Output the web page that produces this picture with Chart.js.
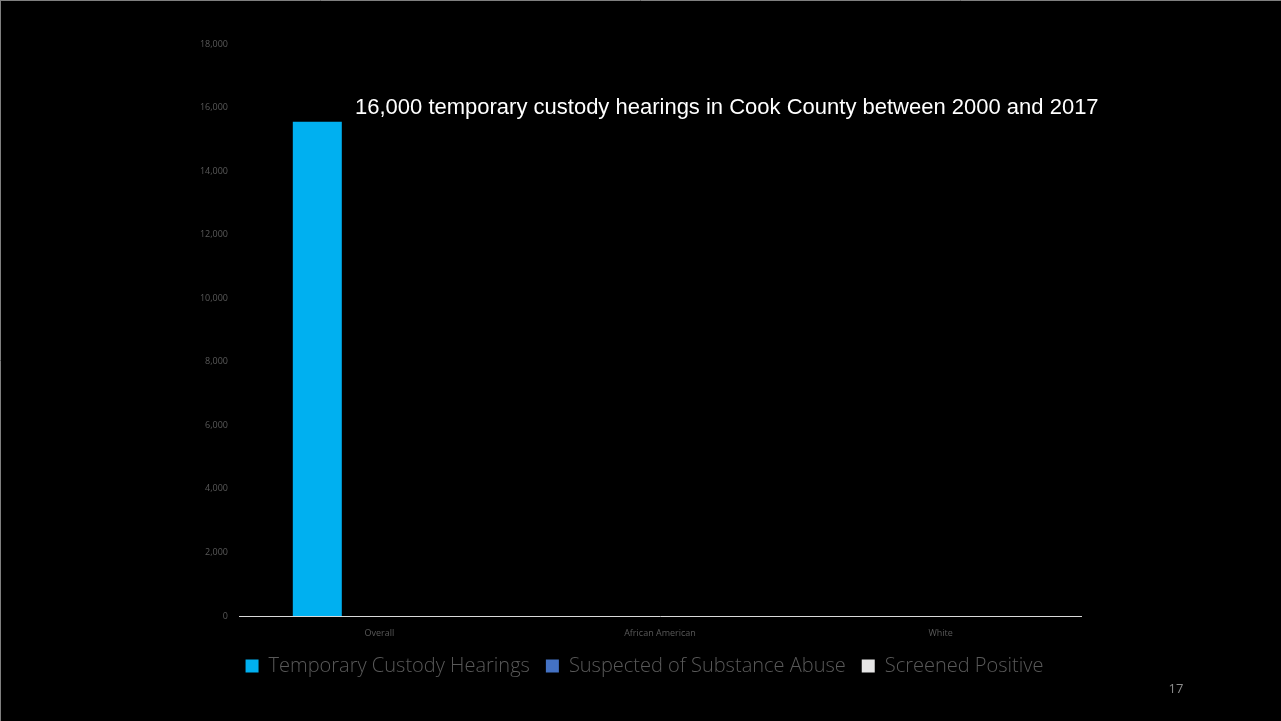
<!DOCTYPE html>
<html lang="en">
<head>
    <meta charset="UTF-8">
    <title>Temporary Custody Hearings</title>
    <script src="https://cdn.jsdelivr.net/npm/chart.js"></script>
    <style>
        html, body {
            margin: 0;
            padding: 0;
            background: #000;
        }
        #wrap {
            width: 1281px;
            height: 721px;
        }
    </style>
</head>
<body>
    <div id="wrap">
        <canvas id="custodyChart" width="1281" height="721"></canvas>
    </div>
    <script>
        // Categories and series
        const categories = ["Overall", "African American", "White"];
        const seriesNames = ["Temporary Custody Hearings", "Suspected of Substance Abuse", "Screened Positive"];
        const hearings = [15550, 0, 0];
        const suspected = [0, 0, 0];
        const screened = [0, 0, 0];
        const seriesColors = ["#00b0f0", "#4472c4", "#e7e6e6"];

        const headline = "16,000 temporary custody hearings in Cook County between 2000 and 2017";
        const pageNumber = "17";

        // Headline text, page number and the thin slide edge
        const slideDecor = {
            id: "slideDecor",
            afterLayout(chart) {
                // nudge the legend row a little to the right
                chart.legend.left += 9;
                chart.legend.right += 9;
            },
            afterDraw(chart) {
                const ctx = chart.ctx;
                ctx.save();
                ctx.fillStyle = "#ffffff";
                ctx.font = "22px 'Liberation Sans', Arial, sans-serif";
                ctx.textBaseline = "alphabetic";
                ctx.textAlign = "left";
                ctx.fillText(headline, 355, 114);

                ctx.fillStyle = "#8c8c8c";
                ctx.font = "13px 'Open Sans', sans-serif";
                ctx.textAlign = "center";
                ctx.fillText(pageNumber, 1176, 693);

                ctx.strokeStyle = "#7f7f7f";
                ctx.lineWidth = 1;
                ctx.beginPath();
                ctx.moveTo(0, 0.5);
                ctx.lineTo(1281, 0.5);
                ctx.moveTo(0.5, 0);
                ctx.lineTo(0.5, 721);
                ctx.stroke();
                ctx.restore();
            }
        };

        const config = {
            type: "bar",
            data: {
                labels: categories,
                datasets: [
                    { label: seriesNames[0], data: hearings, backgroundColor: seriesColors[0] },
                    { label: seriesNames[1], data: suspected, backgroundColor: seriesColors[1] },
                    { label: seriesNames[2], data: screened, backgroundColor: seriesColors[2] }
                ]
            },
            options: {
                responsive: false,
                animation: false,
                categoryPercentage: 0.663,
                barPercentage: 0.79,
                layout: {
                    padding: { top: 44, left: 190, right: 200, bottom: 35 }
                },
                plugins: {
                    tooltip: { enabled: false },
                    legend: {
                        position: "bottom",
                        labels: {
                            color: "#595959",
                            boxWidth: 13,
                            boxHeight: 13,
                            padding: 16,
                            font: { family: "'Open Sans', sans-serif", size: 20, weight: 300 }
                        }
                    }
                },
                scales: {
                    x: {
                        grid: { display: false, drawTicks: false },
                        border: { display: true, color: "#d9d9d9", width: 1 },
                        ticks: {
                            color: "#595959",
                            padding: 12,
                            maxRotation: 0,
                            font: { family: "'Open Sans', sans-serif", size: 9 }
                        },
                        afterFit(scale) { scale.height = 24; }
                    },
                    y: {
                        min: 0,
                        max: 18000,
                        grid: { display: false, drawTicks: false },
                        border: { display: false },
                        ticks: {
                            stepSize: 2000,
                            color: "#595959",
                            padding: 11,
                            font: { family: "'Open Sans', sans-serif", size: 9 },
                            callback: v => v.toLocaleString("en-US")
                        },
                        afterFit(scale) { scale.width = 49; }
                    }
                }
            },
            plugins: [slideDecor]
        };

        new Chart(document.getElementById("custodyChart"), config);
    </script>
</body>
</html>
